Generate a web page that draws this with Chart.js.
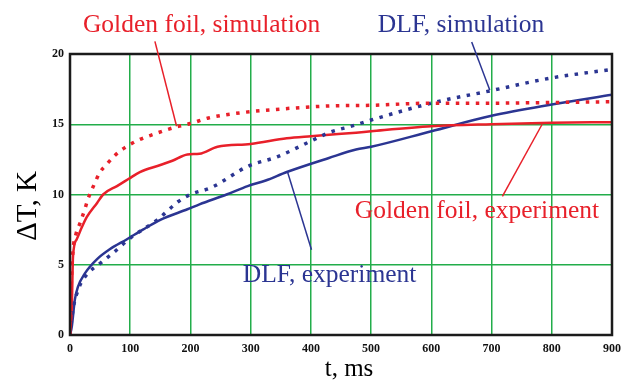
<!DOCTYPE html>
<html>
<head>
<meta charset="utf-8">
<script src="https://cdn.jsdelivr.net/npm/chart.js@4"></script>
<style>
  body { margin: 0; background: #fff; }
  canvas { display: block; }
</style>
</head>
<body>
<canvas id="heatChart" width="633" height="380"></canvas>
<script>
// time (ms) and temperature rise (K)
const goldSimT = [0, 2, 5, 10, 17, 25, 30, 40, 50, 60, 75, 90, 115, 140, 160, 180, 200, 230, 290, 340, 430, 500, 600, 700, 800, 900];
const goldSimV = [0, 3.5, 6.0, 7.2, 8.0, 9.0, 9.7, 10.7, 11.6, 12.1, 12.8, 13.3, 13.9, 14.3, 14.6, 14.85, 15.05, 15.45, 15.85, 16.05, 16.3, 16.35, 16.5, 16.5, 16.55, 16.6];

const goldExpT = [0, 3, 5, 11, 20, 28, 45, 55, 78, 97, 116, 150, 170, 195, 215, 245, 300, 360, 400, 430, 475, 500, 600, 700, 800, 900];
const goldExpV = [0, 2.0, 5.6, 6.8, 7.7, 8.4, 9.4, 10.0, 10.6, 11.1, 11.6, 12.1, 12.4, 12.85, 12.9, 13.4, 13.6, 14.0, 14.15, 14.25, 14.4, 14.5, 14.85, 15.0, 15.1, 15.15];

const dlfSimT = [0, 3, 8, 11, 17, 30, 50, 72, 100, 145, 180, 200, 235, 295, 345, 400, 430, 470, 500, 600, 700, 800, 900];
const dlfSimV = [0, 1.2, 2.5, 2.9, 3.6, 4.4, 5.1, 5.85, 6.9, 8.2, 9.5, 10.0, 10.5, 12.0, 12.7, 13.8, 14.4, 14.9, 15.3, 16.5, 17.4, 18.3, 18.9];

const dlfExpT = [0, 3, 8, 13, 25, 45, 66, 94, 121, 150, 195, 215, 260, 295, 325, 360, 430, 475, 500, 600, 700, 800, 900];
const dlfExpV = [0, 0.6, 2.5, 3.4, 4.4, 5.4, 6.1, 6.8, 7.5, 8.2, 8.95, 9.3, 10.0, 10.6, 11.0, 11.6, 12.6, 13.2, 13.4, 14.5, 15.6, 16.4, 17.1];

const xTicks = [0, 100, 200, 300, 400, 500, 600, 700, 800, 900];
const yTicks = [0, 5, 10, 15, 20];

const RED = "#e8202a";
const BLUE = "#2b3592";
const GREEN = "#22ad4a";
const SERIF = "'Liberation Serif', 'DejaVu Serif', serif";

const toPoints = (ts, vs) => ts.map((t, i) => ({ x: t, y: vs[i] }));

// callouts: text anchor and leader line ends, in data units
const callouts = [
    { text: "Golden foil, simulation", color: RED, at: [21.5, 21.57], from: [141, 20.9], to: [177, 14.86] },
    { text: "DLF, simulation", color: BLUE, at: [511, 21.57], from: [667, 20.86], to: [697, 17.43] },
    { text: "Golden foil, experiment", color: RED, at: [473, 8.36], from: [718, 9.86], to: [784, 15.0] },
    { text: "DLF, experiment", color: BLUE, at: [287, 3.79], from: [401, 6.07], to: [361, 11.64] },
];

const decorPlugin = {
    id: "decor",
    afterDatasetsDraw(chart) {
        const { ctx, chartArea: a, scales: { x, y } } = chart;
        ctx.save();
        // frame
        ctx.strokeStyle = "#1b1b1b";
        ctx.lineWidth = 2.5;
        ctx.strokeRect(a.left, a.top, a.right - a.left, a.bottom - a.top);

        // callouts
        ctx.font = "25.5px " + SERIF;
        ctx.textBaseline = "alphabetic";
        ctx.textAlign = "left";
        callouts.forEach(c => {
            ctx.strokeStyle = c.color;
            ctx.lineWidth = 1.5;
            ctx.beginPath();
            ctx.moveTo(x.getPixelForValue(c.from[0]), y.getPixelForValue(c.from[1]));
            ctx.lineTo(x.getPixelForValue(c.to[0]), y.getPixelForValue(c.to[1]));
            ctx.stroke();
            ctx.fillStyle = c.color;
            ctx.fillText(c.text, x.getPixelForValue(c.at[0]), y.getPixelForValue(c.at[1]));
        });

        // axis titles
        ctx.fillStyle = "#000";
        ctx.textAlign = "center";
        ctx.textBaseline = "middle";
        ctx.font = "25px " + SERIF;
        ctx.fillText("t, ms", 349, 369);
        ctx.translate(28, 206);
        ctx.rotate(-Math.PI / 2);
        ctx.font = "29px " + SERIF;
        ctx.fillText("\u0394T, K", 0, 0);
        ctx.restore();
    },
};

const ctx = document.getElementById("heatChart").getContext("2d");

new Chart(ctx, {
    type: "line",
    data: {
        datasets: [
            {
                label: "Golden foil, simulation",
                data: toPoints(goldSimT, goldSimV),
                borderColor: RED,
                borderWidth: 3.5,
                borderDash: [3.5, 6.5],
            },
            {
                label: "DLF, simulation",
                data: toPoints(dlfSimT, dlfSimV),
                borderColor: BLUE,
                borderWidth: 3.5,
                borderDash: [3.5, 6.5],
            },
            {
                label: "Golden foil, experiment",
                data: toPoints(goldExpT, goldExpV),
                borderColor: RED,
                borderWidth: 2.5,
            },
            {
                label: "DLF, experiment",
                data: toPoints(dlfExpT, dlfExpV),
                borderColor: BLUE,
                borderWidth: 2.5,
            },
        ],
    },
    options: {
        responsive: false,
        animation: false,
        layout: { padding: { left: 0, top: 54, right: 21, bottom: 0 } },
        elements: {
            point: { radius: 0 },
            line: { cubicInterpolationMode: "monotone", fill: false },
        },
        plugins: {
            legend: { display: false },
            tooltip: { enabled: false },
        },
        scales: {
            x: {
                type: "linear",
                min: 0,
                max: 900,
                afterFit: s => { s.height = 45; },
                afterBuildTicks: s => { s.ticks = xTicks.map(v => ({ value: v })); },
                grid: { color: GREEN, lineWidth: 1.5, drawTicks: false },
                border: { display: false },
                ticks: { color: "#111", padding: 7, maxRotation: 0, font: { family: SERIF, size: 12, weight: "bold" } },
            },
            y: {
                min: 0,
                max: 20,
                afterFit: s => { s.width = 70; },
                afterBuildTicks: s => { s.ticks = yTicks.map(v => ({ value: v })); },
                grid: { color: GREEN, lineWidth: 1.5, drawTicks: false },
                border: { display: false },
                ticks: { color: "#111", padding: 6, font: { family: SERIF, size: 12, weight: "bold" } },
            },
        },
    },
    plugins: [decorPlugin],
});
</script>
</body>
</html>
